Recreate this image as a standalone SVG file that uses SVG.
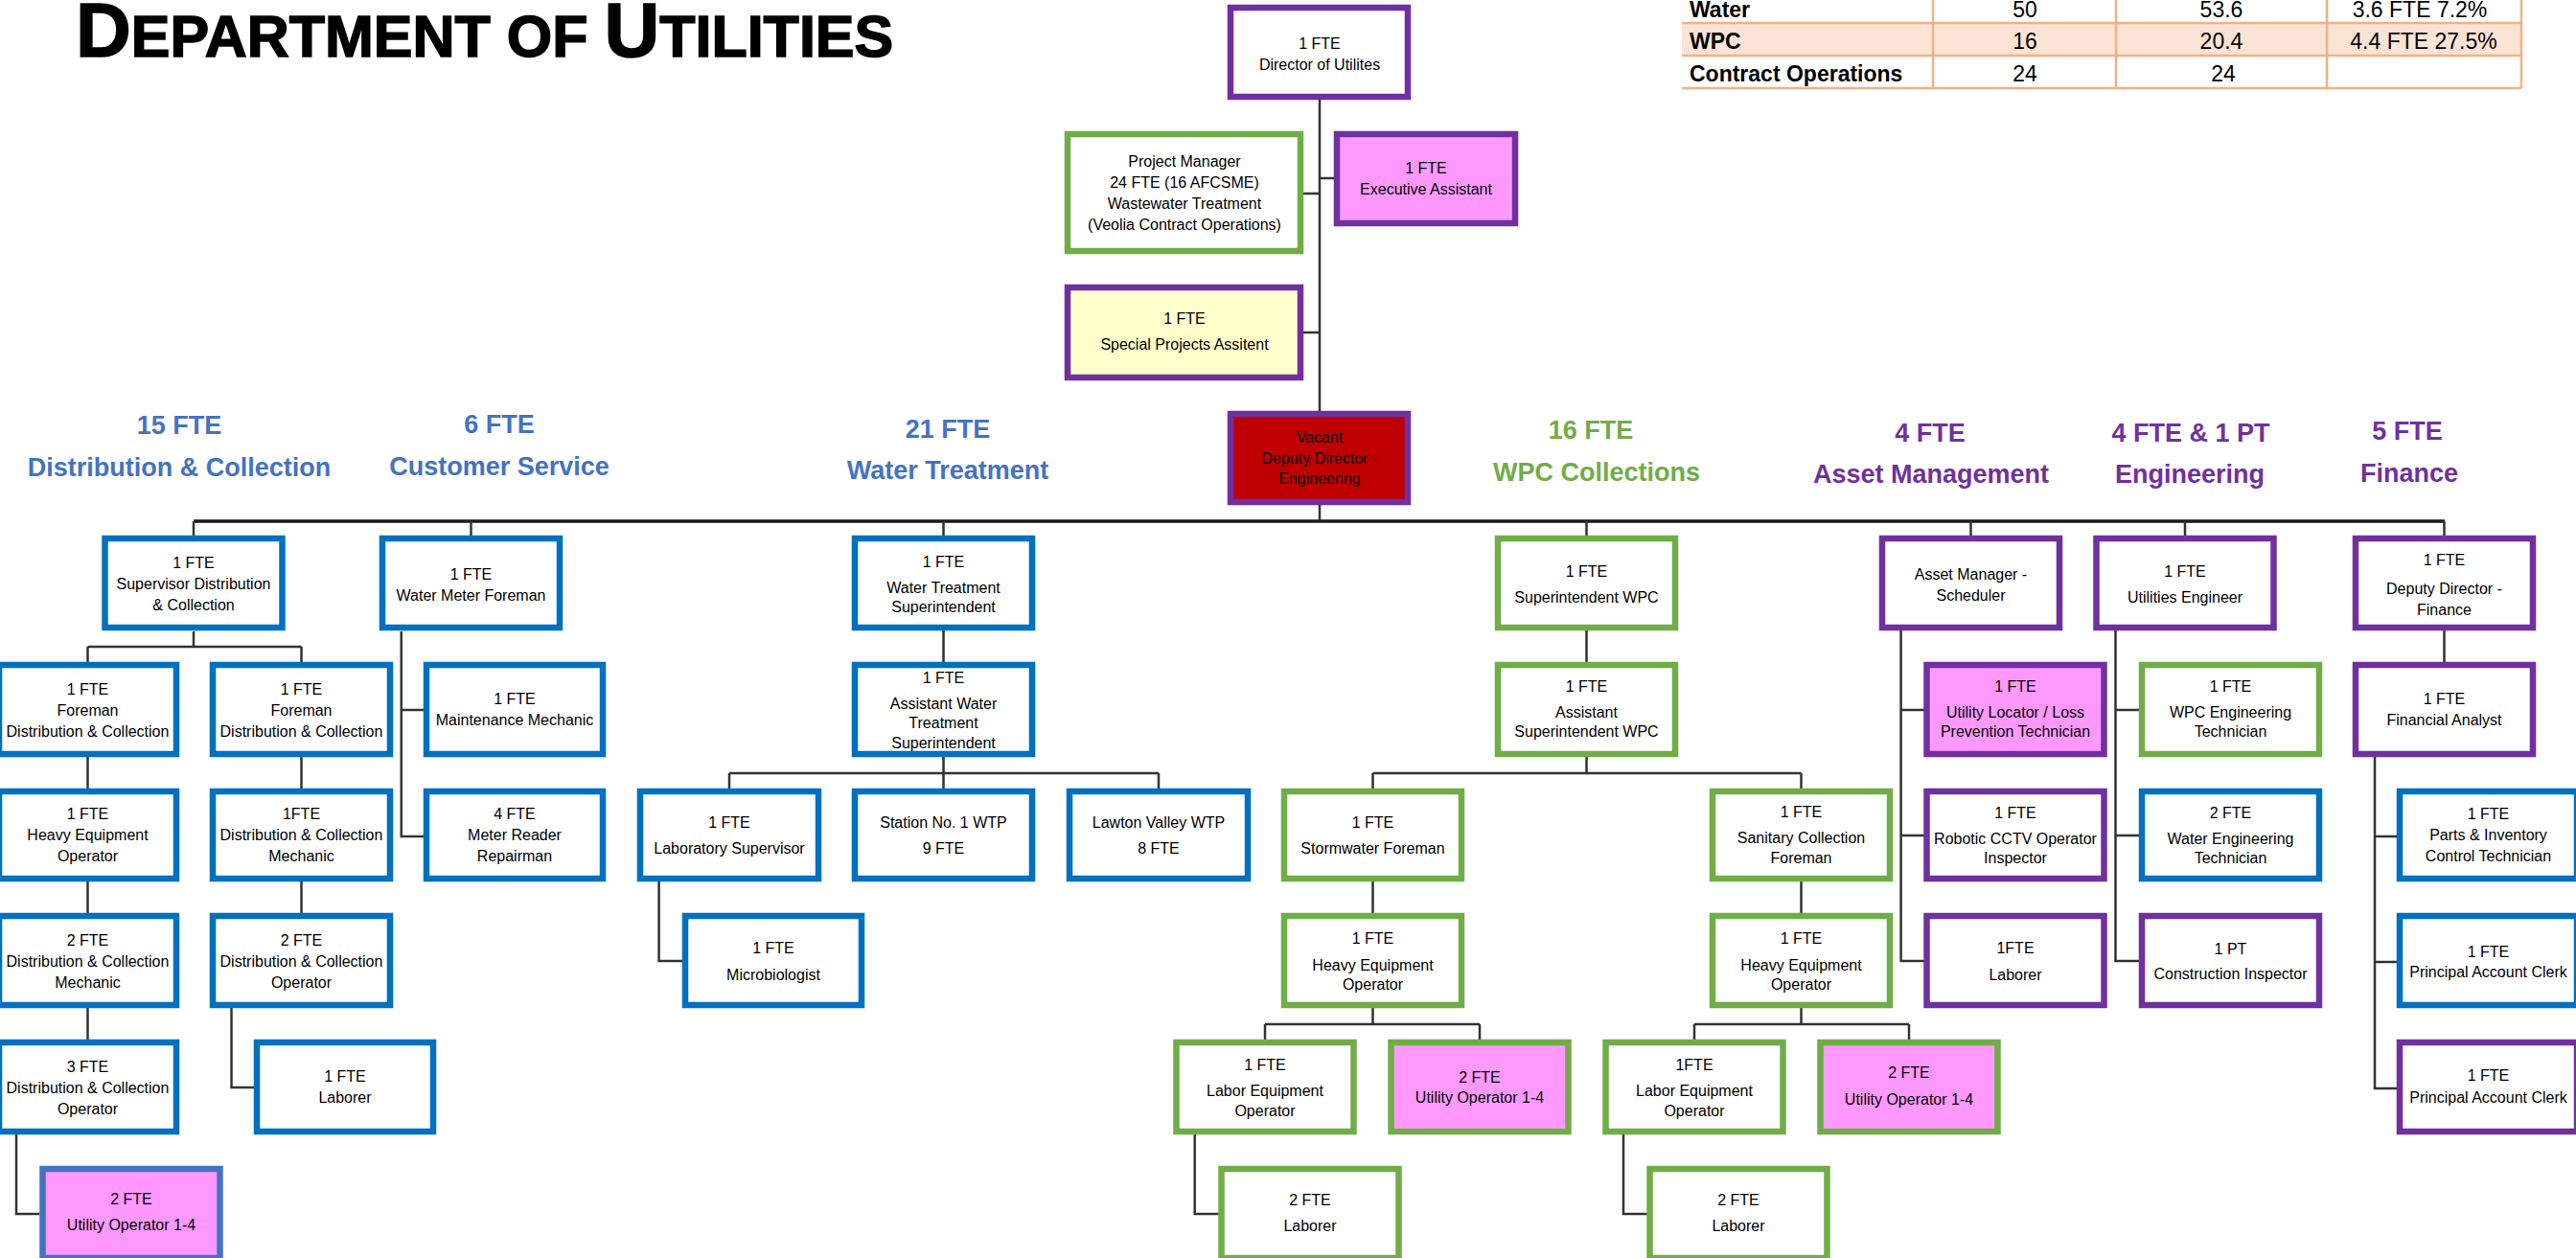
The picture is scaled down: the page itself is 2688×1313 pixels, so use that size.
<svg xmlns="http://www.w3.org/2000/svg" width="2688" height="1313" viewBox="0 0 2688 1313">
<style>
.bx{stroke-width:6.5}
.bl{fill:#fff;stroke:#0070C0}
.gr{fill:#fff;stroke:#70AD47}
.pu{fill:#fff;stroke:#7030A0}
.pk{fill:#FF99FF}
.t{font-family:"Liberation Sans",Arial,sans-serif;font-size:16px;fill:#000;text-anchor:middle}
.h{font-family:"Liberation Sans",Arial,sans-serif;font-size:27px;font-weight:bold;text-anchor:middle}
.hb{fill:#4472C4}.hg{fill:#70AD47}.hp{fill:#7030A0}
.c{stroke:#333;stroke-width:2.5;fill:none}
.m{stroke:#1a1a1a;stroke-width:3.5;fill:none}
.tl{stroke:#F4B183;stroke-width:2.5;fill:none}
.tt{font-family:"Liberation Sans",Arial,sans-serif;font-size:23px;fill:#000}
</style>
<rect x="0" y="0" width="2688" height="1313" fill="#fff"/>
<g id="title">
<text x="79" y="59" font-family="'Liberation Sans',Arial,sans-serif" font-weight="bold" fill="#000" stroke="#000" stroke-width="1.5"><tspan font-size="80">D</tspan><tspan font-size="61">EPARTMENT OF </tspan><tspan font-size="80">U</tspan><tspan font-size="61">TILITIES</tspan></text>
</g>
<g id="table">
<rect x="1755" y="24" width="876" height="34" fill="#FBE4D5"/>
<path class="tl" d="M1755 24H2631M1755 58H2631M1755 92H2631M2017 0V92M2208 0V92M2428 0V92M2631 0V92"/>
<text class="tt" x="1763" y="18" font-weight="bold">Water</text>
<text class="tt" x="2113" y="18" text-anchor="middle">50</text>
<text class="tt" x="2318" y="18" text-anchor="middle">53.6</text>
<text class="tt" x="2525" y="18" text-anchor="middle">3.6 FTE 7.2%</text>
<text class="tt" x="1763" y="51" font-weight="bold">WPC</text>
<text class="tt" x="2113" y="51" text-anchor="middle">16</text>
<text class="tt" x="2318" y="51" text-anchor="middle">20.4</text>
<text class="tt" x="2529" y="51" text-anchor="middle">4.4 FTE 27.5%</text>
<text class="tt" x="1763" y="85" font-weight="bold">Contract Operations</text>
<text class="tt" x="2113" y="85" text-anchor="middle">24</text>
<text class="tt" x="2320" y="85" text-anchor="middle">24</text>
</g>
<g id="headers">
<text class="h hb" x="187" y="453">15 FTE</text>
<text class="h hb" x="187" y="497">Distribution &amp; Collection</text>
<text class="h hb" x="521" y="452">6 FTE</text>
<text class="h hb" x="521" y="496">Customer Service</text>
<text class="h hb" x="989" y="457">21 FTE</text>
<text class="h hb" x="989" y="500">Water Treatment</text>
<text class="h hg" x="1660" y="458">16 FTE</text>
<text class="h hg" x="1666" y="502">WPC Collections</text>
<text class="h hp" x="2014" y="461">4 FTE</text>
<text class="h hp" x="2015" y="504">Asset Management</text>
<text class="h hp" x="2286" y="461">4 FTE &amp; 1 PT</text>
<text class="h hp" x="2285" y="504">Engineering</text>
<text class="h hp" x="2512" y="459">5 FTE</text>
<text class="h hp" x="2514" y="503">Finance</text>
</g>
<g id="connectors">
<path class="c" d="M1377 104V429M1360 202H1377M1360 347H1377M1377 186H1392M1377 527V544"/>
<path class="m" d="M202 544H2551"/>
<path class="c" d="M202 544V559M491.5 544V559M984.5 544V559M1655.5 544V559M2056.5 544V559M2280 544V559M2550.5 544V559"/>
<path class="c" d="M202 659V675M91.5 675H314.5M91.5 675V691M314.5 675V691M91.5 790V823M91.5 920V953M91.5 1052V1085M314.5 790V823M314.5 920V953M241.5 1052V1135H265M17 1184V1267H41.5"/>
<path class="c" d="M418.75 659V873H442M418.75 741H442"/>
<path class="c" d="M984.5 658V691M984.5 790V807M761 807H1209M761 807V823M984.5 807V823M1209 807V823M687.6 920V1003H712"/>
<path class="c" d="M1655.5 658V691M1655.5 790V807M1432.5 807H1879.5M1432.5 807V823M1879.5 807V823M1432.5 920V953M1879.5 920V953M1432.5 1052V1069M1320 1069H1544M1320 1069V1085M1544 1069V1085M1879.5 1052V1069M1768 1069H1992M1768 1069V1085M1992 1069V1085M1246.7 1184V1267H1272M1694 1184V1267H1719"/>
<path class="c" d="M1983.6 658V1003H2008M1983.6 741H2008M1983.6 872H2008"/>
<path class="c" d="M2207.5 658V1003H2232M2207.5 741H2232M2207.5 872H2232"/>
<path class="c" d="M2550.5 658V691M2478 790V1136H2501M2478 873H2501M2478 1004H2501"/>
</g>
<g id="director"><rect class="bx pu" x="1284" y="8" width="185" height="93"/><text class="t"><tspan x="1377" y="51">1 FTE</tspan><tspan x="1377" y="73">Director of Utilites</tspan></text></g>
<g id="project-manager"><rect class="bx gr" x="1114" y="140" width="243" height="122"/><text class="t"><tspan x="1236" y="174">Project Manager</tspan><tspan x="1236" y="196">24 FTE (16 AFCSME)</tspan><tspan x="1236" y="218">Wastewater Treatment</tspan><tspan x="1236" y="240">(Veolia Contract Operations)</tspan></text></g>
<g id="executive-assistant"><rect class="bx pu pk" x="1395" y="140" width="186" height="93"/><text class="t"><tspan x="1488" y="181">1 FTE</tspan><tspan x="1488" y="203">Executive Assistant</tspan></text></g>
<g id="special-projects"><rect class="bx pu" style="fill:#FFFFCC" x="1114" y="300" width="243" height="94"/><text class="t"><tspan x="1236" y="338">1 FTE</tspan><tspan x="1236" y="365">Special Projects Assitent</tspan></text></g>
<g id="deputy-director"><rect class="bx pu" style="fill:#C00000" x="1284" y="432" width="185" height="92"/><text class="t"><tspan x="1377" y="462">Vacant</tspan><tspan x="1377" y="484">Deputy Director -</tspan><tspan x="1377" y="505">Engineering</tspan></text></g>
<g id="dc-supervisor"><rect class="bx bl" x="109.5" y="562" width="185" height="93"/><text class="t"><tspan x="202" y="593">1 FTE</tspan><tspan x="202" y="615">Supervisor Distribution</tspan><tspan x="202" y="637">&amp; Collection</tspan></text></g>
<g id="dc-foreman-1"><rect class="bx bl" x="-1" y="694" width="185" height="93"/><text class="t"><tspan x="91.5" y="725">1 FTE</tspan><tspan x="91.5" y="747">Foreman</tspan><tspan x="91.5" y="769">Distribution &amp; Collection</tspan></text></g>
<g id="dc-foreman-2"><rect class="bx bl" x="222" y="694" width="185" height="93"/><text class="t"><tspan x="314.5" y="725">1 FTE</tspan><tspan x="314.5" y="747">Foreman</tspan><tspan x="314.5" y="769">Distribution &amp; Collection</tspan></text></g>
<g id="dc-heavy-equipment"><rect class="bx bl" x="-1" y="826" width="185" height="91"/><text class="t"><tspan x="91.5" y="855">1 FTE</tspan><tspan x="91.5" y="877">Heavy Equipment</tspan><tspan x="91.5" y="899">Operator</tspan></text></g>
<g id="dc-mechanic-1"><rect class="bx bl" x="222" y="826" width="185" height="91"/><text class="t"><tspan x="314.5" y="855">1FTE</tspan><tspan x="314.5" y="877">Distribution &amp; Collection</tspan><tspan x="314.5" y="899">Mechanic</tspan></text></g>
<g id="dc-mechanic-2"><rect class="bx bl" x="-1" y="956" width="185" height="93"/><text class="t"><tspan x="91.5" y="987">2 FTE</tspan><tspan x="91.5" y="1009">Distribution &amp; Collection</tspan><tspan x="91.5" y="1031">Mechanic</tspan></text></g>
<g id="dc-operator-2"><rect class="bx bl" x="222" y="956" width="185" height="93"/><text class="t"><tspan x="314.5" y="987">2 FTE</tspan><tspan x="314.5" y="1009">Distribution &amp; Collection</tspan><tspan x="314.5" y="1031">Operator</tspan></text></g>
<g id="dc-operator-3"><rect class="bx bl" x="-1" y="1088" width="185" height="93"/><text class="t"><tspan x="91.5" y="1119">3 FTE</tspan><tspan x="91.5" y="1141">Distribution &amp; Collection</tspan><tspan x="91.5" y="1163">Operator</tspan></text></g>
<g id="dc-laborer"><rect class="bx bl" x="268" y="1088" width="184" height="93"/><text class="t"><tspan x="360" y="1129">1 FTE</tspan><tspan x="360" y="1151">Laborer</tspan></text></g>
<g id="dc-utility-operator"><rect class="bx pk" style="stroke:#4472C4" x="44.5" y="1220" width="185" height="93"/><text class="t"><tspan x="137" y="1257">2 FTE</tspan><tspan x="137" y="1284">Utility Operator 1-4</tspan></text></g>
<g id="cs-water-meter-foreman"><rect class="bx bl" x="399" y="562" width="185" height="93"/><text class="t"><tspan x="491.5" y="605">1 FTE</tspan><tspan x="491.5" y="627">Water Meter Foreman</tspan></text></g>
<g id="cs-maintenance-mechanic"><rect class="bx bl" x="445" y="694" width="184" height="93"/><text class="t"><tspan x="537" y="735">1 FTE</tspan><tspan x="537" y="757">Maintenance Mechanic</tspan></text></g>
<g id="cs-meter-reader"><rect class="bx bl" x="445" y="826" width="184" height="91"/><text class="t"><tspan x="537" y="855">4 FTE</tspan><tspan x="537" y="877">Meter Reader</tspan><tspan x="537" y="899">Repairman</tspan></text></g>
<g id="wt-superintendent"><rect class="bx bl" x="892" y="562" width="185" height="93"/><text class="t"><tspan x="984.5" y="592">1 FTE</tspan><tspan x="984.5" y="619">Water Treatment</tspan><tspan x="984.5" y="639">Superintendent</tspan></text></g>
<g id="wt-assistant"><rect class="bx bl" x="892" y="694" width="185" height="93"/><text class="t"><tspan x="984.5" y="713">1 FTE</tspan><tspan x="984.5" y="740">Assistant Water</tspan><tspan x="984.5" y="760">Treatment</tspan><tspan x="984.5" y="781">Superintendent</tspan></text></g>
<g id="wt-lab-supervisor"><rect class="bx bl" x="668" y="826" width="186" height="91"/><text class="t"><tspan x="761" y="864">1 FTE</tspan><tspan x="761" y="891">Laboratory Supervisor</tspan></text></g>
<g id="wt-station-1"><rect class="bx bl" x="892" y="826" width="185" height="91"/><text class="t"><tspan x="984.5" y="864">Station No. 1 WTP</tspan><tspan x="984.5" y="891">9 FTE</tspan></text></g>
<g id="wt-lawton-valley"><rect class="bx bl" x="1116" y="826" width="186" height="91"/><text class="t"><tspan x="1209" y="864">Lawton Valley WTP</tspan><tspan x="1209" y="891">8 FTE</tspan></text></g>
<g id="wt-microbiologist"><rect class="bx bl" x="715" y="956" width="184" height="93"/><text class="t"><tspan x="807" y="995">1 FTE</tspan><tspan x="807" y="1023">Microbiologist</tspan></text></g>
<g id="wpc-superintendent"><rect class="bx gr" x="1563" y="562" width="185" height="93"/><text class="t"><tspan x="1655.5" y="602">1 FTE</tspan><tspan x="1655.5" y="629">Superintendent WPC</tspan></text></g>
<g id="wpc-assistant"><rect class="bx gr" x="1563" y="694" width="185" height="93"/><text class="t"><tspan x="1655.5" y="722">1 FTE</tspan><tspan x="1655.5" y="749">Assistant</tspan><tspan x="1655.5" y="769">Superintendent WPC</tspan></text></g>
<g id="wpc-stormwater-foreman"><rect class="bx gr" x="1340" y="826" width="185" height="91"/><text class="t"><tspan x="1432.5" y="864">1 FTE</tspan><tspan x="1432.5" y="891">Stormwater Foreman</tspan></text></g>
<g id="wpc-sanitary-foreman"><rect class="bx gr" x="1787" y="826" width="185" height="91"/><text class="t"><tspan x="1879.5" y="853">1 FTE</tspan><tspan x="1879.5" y="880">Sanitary Collection</tspan><tspan x="1879.5" y="901">Foreman</tspan></text></g>
<g id="wpc-heavy-equipment-1"><rect class="bx gr" x="1340" y="956" width="185" height="93"/><text class="t"><tspan x="1432.5" y="985">1 FTE</tspan><tspan x="1432.5" y="1013">Heavy Equipment</tspan><tspan x="1432.5" y="1033">Operator</tspan></text></g>
<g id="wpc-heavy-equipment-2"><rect class="bx gr" x="1787" y="956" width="185" height="93"/><text class="t"><tspan x="1879.5" y="985">1 FTE</tspan><tspan x="1879.5" y="1013">Heavy Equipment</tspan><tspan x="1879.5" y="1033">Operator</tspan></text></g>
<g id="wpc-labor-equipment-1"><rect class="bx gr" x="1227.5" y="1088" width="185" height="93"/><text class="t"><tspan x="1320" y="1117">1 FTE</tspan><tspan x="1320" y="1144">Labor Equipment</tspan><tspan x="1320" y="1165">Operator</tspan></text></g>
<g id="wpc-utility-operator-1"><rect class="bx gr pk" x="1451.5" y="1088" width="185" height="93"/><text class="t"><tspan x="1544" y="1130">2 FTE</tspan><tspan x="1544" y="1151">Utility Operator 1-4</tspan></text></g>
<g id="wpc-laborer-1"><rect class="bx gr" x="1274.5" y="1220" width="185" height="93"/><text class="t"><tspan x="1367" y="1258">2 FTE</tspan><tspan x="1367" y="1285">Laborer</tspan></text></g>
<g id="wpc-labor-equipment-2"><rect class="bx gr" x="1675.5" y="1088" width="185" height="93"/><text class="t"><tspan x="1768" y="1117">1FTE</tspan><tspan x="1768" y="1144">Labor Equipment</tspan><tspan x="1768" y="1165">Operator</tspan></text></g>
<g id="wpc-utility-operator-2"><rect class="bx gr pk" x="1899.5" y="1088" width="185" height="93"/><text class="t"><tspan x="1992" y="1125">2 FTE</tspan><tspan x="1992" y="1153">Utility Operator 1-4</tspan></text></g>
<g id="wpc-laborer-2"><rect class="bx gr" x="1721.5" y="1220" width="185" height="93"/><text class="t"><tspan x="1814" y="1258">2 FTE</tspan><tspan x="1814" y="1285">Laborer</tspan></text></g>
<g id="am-asset-manager"><rect class="bx pu" x="1964" y="562" width="185" height="93"/><text class="t"><tspan x="2056.5" y="605">Asset Manager -</tspan><tspan x="2056.5" y="627">Scheduler</tspan></text></g>
<g id="am-utility-locator"><rect class="bx pu pk" x="2010.5" y="694" width="185" height="93"/><text class="t"><tspan x="2103" y="722">1 FTE</tspan><tspan x="2103" y="749">Utility Locator / Loss</tspan><tspan x="2103" y="769">Prevention Technician</tspan></text></g>
<g id="am-robotic-cctv"><rect class="bx pu" x="2010.5" y="826" width="185" height="91"/><text class="t"><tspan x="2103" y="854">1 FTE</tspan><tspan x="2103" y="881">Robotic CCTV Operator</tspan><tspan x="2103" y="901">Inspector</tspan></text></g>
<g id="am-laborer"><rect class="bx pu" x="2010.5" y="956" width="185" height="93"/><text class="t"><tspan x="2103" y="995">1FTE</tspan><tspan x="2103" y="1023">Laborer</tspan></text></g>
<g id="eng-utilities-engineer"><rect class="bx pu" x="2187.5" y="562" width="185" height="93"/><text class="t"><tspan x="2280" y="602">1 FTE</tspan><tspan x="2280" y="629">Utilities Engineer</tspan></text></g>
<g id="eng-wpc-technician"><rect class="bx gr" x="2235" y="694" width="185" height="93"/><text class="t"><tspan x="2327.5" y="722">1 FTE</tspan><tspan x="2327.5" y="749">WPC Engineering</tspan><tspan x="2327.5" y="769">Technician</tspan></text></g>
<g id="eng-water-technician"><rect class="bx bl" x="2235" y="826" width="185" height="91"/><text class="t"><tspan x="2327.5" y="854">2 FTE</tspan><tspan x="2327.5" y="881">Water Engineering</tspan><tspan x="2327.5" y="901">Technician</tspan></text></g>
<g id="eng-construction-inspector"><rect class="bx pu" x="2235" y="956" width="185" height="93"/><text class="t"><tspan x="2327.5" y="996">1 PT</tspan><tspan x="2327.5" y="1022">Construction Inspector</tspan></text></g>
<g id="fin-deputy-director"><rect class="bx pu" x="2458" y="562" width="185" height="93"/><text class="t"><tspan x="2550.5" y="590">1 FTE</tspan><tspan x="2550.5" y="620">Deputy Director -</tspan><tspan x="2550.5" y="642">Finance</tspan></text></g>
<g id="fin-financial-analyst"><rect class="bx pu" x="2458" y="694" width="185" height="93"/><text class="t"><tspan x="2550.5" y="735">1 FTE</tspan><tspan x="2550.5" y="757">Financial Analyst</tspan></text></g>
<g id="fin-parts-inventory"><rect class="bx bl" x="2504" y="826" width="185" height="91"/><text class="t"><tspan x="2596.5" y="855">1 FTE</tspan><tspan x="2596.5" y="877">Parts &amp; Inventory</tspan><tspan x="2596.5" y="899">Control Technician</tspan></text></g>
<g id="fin-principal-clerk-1"><rect class="bx bl" x="2504" y="956" width="185" height="93"/><text class="t"><tspan x="2596.5" y="999">1 FTE</tspan><tspan x="2596.5" y="1020">Principal Account Clerk</tspan></text></g>
<g id="fin-principal-clerk-2"><rect class="bx pu" x="2504" y="1088" width="185" height="93"/><text class="t"><tspan x="2596.5" y="1128">1 FTE</tspan><tspan x="2596.5" y="1151">Principal Account Clerk</tspan></text></g>
</svg>
